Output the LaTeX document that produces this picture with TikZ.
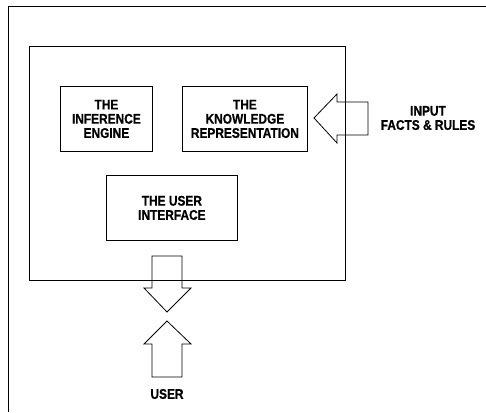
\documentclass[tikz,border=0pt]{standalone}
\usepackage{fontspec}
\setmainfont{Liberation Sans}[FakeStretch=0.85,FakeBold=0.6]
\begin{document}
\begin{tikzpicture}[x=1pt,y=-1pt,
  box/.style={draw, line width=0.8pt, anchor=north west, inner sep=0pt},
  lbl/.style={align=center, font=\bfseries\fontsize{14}{14.2}\selectfont},
  outline/.style={draw, line width=0.8pt, line join=miter}]
\useasboundingbox (0,0) rectangle (486,412);
% outer frame (cropped)
\draw[line width=1pt] (8,412) -- (8,7) -- (486,7);
% main box
\node[box, minimum width=316pt, minimum height=234pt] (main) at (29,46) {};
% inner boxes
\node[box, minimum width=92pt, minimum height=65pt] (ie) at (60,86) {};
\node[lbl] at (ie.center) {THE\\INFERENCE\\ENGINE};
\node[box, minimum width=125pt, minimum height=65pt] (kr) at (182,86) {};
\node[lbl] at (kr.center) {THE\\KNOWLEDGE\\REPRESENTATION};
\node[box, minimum width=131pt, minimum height=65pt] (ui) at (106,175) {};
\node[lbl] at (ui.center) {THE USER\\INTERFACE};
% input arrow
\coordinate (intip) at (314,118);
\draw[outline] (intip) -- (337,94) -- (337,102) -- (368,102) -- (368,135) -- (337,135) -- (337,143) -- cycle;
\node[lbl] (input) at (428,118) {INPUT\\FACTS \& RULES};
% down arrow
\coordinate (dtip) at (167,312);
\draw[outline] (dtip) -- (144,288) -- (152,288) -- (152,256) -- (182,256) -- (182,288) -- (191,288) -- cycle;
% up arrow
\coordinate (utip) at (167,321);
\draw[outline] (utip) -- (144,344) -- (152,344) -- (152,377) -- (182,377) -- (182,344) -- (191,344) -- cycle;
\node[lbl] (user) at (167,394) {USER};
\end{tikzpicture}
\end{document}
